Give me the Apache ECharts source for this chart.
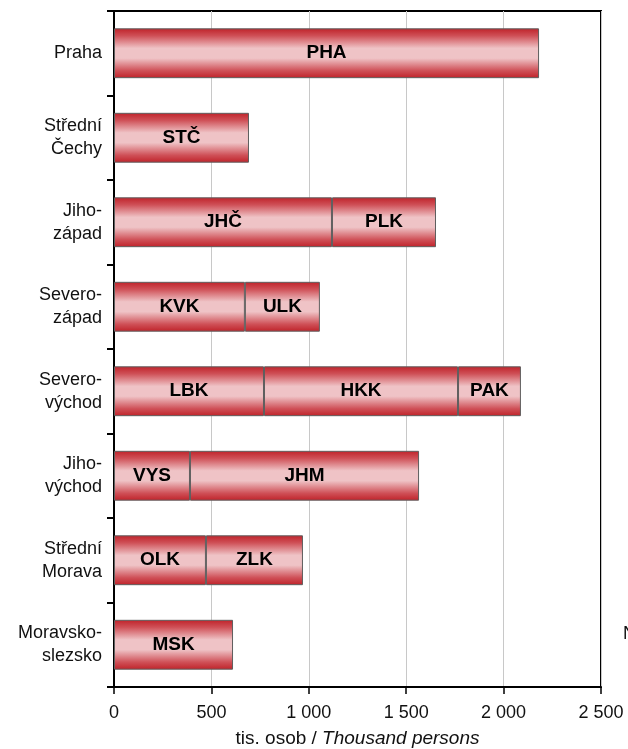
<!DOCTYPE html>
<html>
<head>
<meta charset="utf-8">
<script src="https://cdn.jsdelivr.net/npm/echarts@6/dist/echarts.min.js"></script>
<style>html,body{margin:0;padding:0;background:#fff;}#c{width:628px;height:749px;}</style>
</head>
<body>
<div id="c"></div>
<script>
const categories = ['Praha','Střední\nČechy','Jiho-\nzápad','Severo-\nzápad','Severo-\nvýchod','Jiho-\nvýchod','Střední\nMorava','Moravsko-\nslezsko'];
const seg1Values = [2182, 693, 1119, 672, 770, 390, 472, 611];
const seg1Labels = ['PHA','STČ','JHČ','KVK','LBK','VYS','OLK','MSK'];
const seg2Values = [null, null, 534, 385, 996, 1176, 498, null];
const seg2Labels = ['', '', 'PLK','ULK','HKK','JHM','ZLK',''];
const seg3Values = [null, null, null, null, 323, null, null, null];
const seg3Labels = ['', '', '', '', 'PAK', '', '', ''];
const xTicks = [0, 500, 1000, 1500, 2000, 2500];

const FONT = '"Liberation Sans", Arial, sans-serif';
const barGradient = new echarts.graphic.LinearGradient(0, 0, 0, 1, [
  {offset: 0, color: '#bf2229'},
  {offset: 0.15, color: '#cf5057'},
  {offset: 0.4, color: '#efc3c6'},
  {offset: 0.6, color: '#efc3c6'},
  {offset: 0.85, color: '#cf5057'},
  {offset: 1, color: '#bf2229'}
]);

function mkSeries(vals, labels) {
  return {
    type: 'bar',
    stack: 'total',
    barCategoryGap: '41%',
    data: vals,
    itemStyle: {color: barGradient, borderColor: '#5f5f5f', borderWidth: 1},
    label: {
      show: true, position: 'inside',
      formatter: p => labels[p.dataIndex],
      color: '#000', fontWeight: 'bold', fontSize: 19, fontFamily: FONT
    },
    emphasis: {disabled: true},
    animation: false
  };
}

const chart = echarts.init(document.getElementById('c'));
chart.setOption({
  animation: false,
  grid: {left: 114, right: 27, top: 11, bottom: 62, show: true, borderColor: '#000', borderWidth: 2, containLabel: false, outerBoundsMode: 'none'},
  xAxis: {
    type: 'value', min: 0, max: 2500, interval: 500,
    axisLine: {show: true, lineStyle: {color: '#000', width: 2}},
    axisTick: {show: true, length: 7, lineStyle: {color: '#000', width: 1.5}},
    splitLine: {show: true, lineStyle: {color: '#c8c8c8', width: 1}},
    axisLabel: {
      color: '#111', fontSize: 18, fontFamily: FONT, margin: 17,
      formatter: v => { const i = xTicks.indexOf(v); return i >= 0 ? String(xTicks[i]).replace(/\B(?=(\d{3})+(?!\d))/g, ' ') : ''; }
    },
    name: '{n|tis. osob / }{i|Thousand persons}',
    nameLocation: 'middle', nameGap: 42,
    nameTextStyle: {
      rich: {
        n: {fontSize: 19, fontFamily: FONT, color: '#111'},
        i: {fontSize: 19, fontFamily: FONT, color: '#111', fontStyle: 'italic'}
      }
    }
  },
  yAxis: {
    type: 'category', data: categories, inverse: true,
    axisLine: {show: true, lineStyle: {color: '#000', width: 2}},
    axisTick: {show: true, length: 7, lineStyle: {color: '#000', width: 2}},
    axisLabel: {color: '#111', fontSize: 18, fontFamily: FONT, margin: 12, align: 'right', lineHeight: 23}
  },
  series: [mkSeries(seg1Values, seg1Labels), mkSeries(seg2Values, seg2Labels), mkSeries(seg3Values, seg3Labels)],
  graphic: [{
    type: 'text', left: 623, top: 625,
    style: {text: 'NUTS 2', fontSize: 18, fontFamily: FONT, fill: '#111'}
  }]
});
</script>
</body>
</html>
